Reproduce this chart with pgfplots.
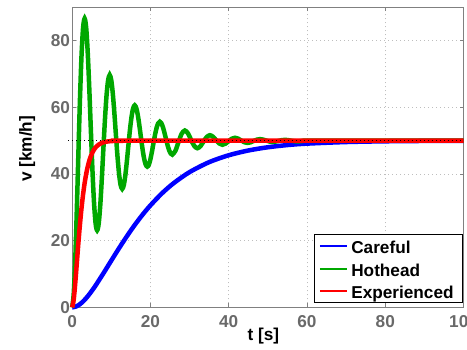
\documentclass[border=0pt]{standalone}
\usepackage{pgfplots}
\pgfplotsset{compat=1.18}
\usepackage{fontspec}
\setmainfont{Liberation Sans}
\definecolor{tickgray}{RGB}{105,105,105}
\definecolor{axgray}{RGB}{128,128,128}
\definecolor{gridgray}{RGB}{190,190,190}
\definecolor{mgreen}{RGB}{0,168,0}
\definecolor{mblue}{RGB}{0,0,255}
\newcommand{\bigbf}{\fontsize{17.2}{20}\selectfont\bfseries}
\begin{document}
\begin{tikzpicture}
\begin{axis}[
  at={(0,0)}, anchor=south west,
  scale only axis, width=391.5pt, height=300pt,
  xmin=0, xmax=100, ymin=0, ymax=90,
  xtick={0,20,...,100}, ytick={0,20,...,80},
  clip=false,
  tick align=inside, major tick length=4pt,
  axis line style={axgray, line width=0.8pt},
  every tick/.style={axgray, line width=0.8pt},
  grid=major,
  major grid style={gridgray, line width=0.8pt, dash pattern=on 1pt off 3pt},
  tick label style={font=\bigbf, text=tickgray},
  /pgf/number format/assume math mode=true,
  xticklabel style={anchor=base, yshift=-20.3pt},
  yticklabel style={anchor=east, inner sep=0pt, xshift=-2pt},
  xlabel={t [s]}, ylabel={v [km/h]},
  every axis x label/.style={at={(axis description cs:0.4885,-0.0966)}, anchor=center, font=\bigbf},
  every axis y label/.style={at={(axis description cs:-0.115,0.5285)}, anchor=center, rotate=90, font=\bigbf},
]
\addplot[draw=mblue, line width=4.5pt, smooth] coordinates {
(0,0) (1,0.27) (2,0.96) (3,2.02) (4,3.35) (5,4.89) (6,6.57) (8,10.23) (10,14.02)
(12,17.77) (14,21.36) (16,24.73) (18,27.81) (20,30.60) (23,34.27) (26,37.32)
(30,40.58) (35,43.57) (40,45.64) (45,47.07) (50,48.04) (55,48.70) (60,49.13)
(70,49.61) (80,49.83) (90,49.93) (100,49.97)};
\addplot[draw=mgreen, line width=4.5pt, smooth] coordinates {
(0,0) (0.4,3.80) (0.8,14.15) (1.2,29.02) (1.6,45.89) (2.0,62.11) (2.4,75.33) (2.8,83.81)
(3.2,86.66) (3.6,83.88) (4.0,76.29) (4.4,65.38) (4.8,53.01) (5.2,41.12) (5.6,31.43)
(6.0,25.21) (6.4,23.12)
(6.8,25.16) (7.2,30.73) (7.6,38.72) (8.0,47.79) (8.4,56.51) (8.8,63.62) (9.2,68.17)
(9.6,69.71) (10.0,68.21) (10.4,64.13) (10.8,58.27) (11.2,51.62) (11.6,45.23) (12.0,40.02)
(12.4,36.67) (12.8,35.55)
(13.2,36.65) (13.6,39.64) (14.0,43.94) (14.4,48.81) (14.8,53.50) (15.2,57.32) (15.6,59.77)
(16.0,60.60) (16.4,59.79) (16.8,57.60) (17.2,54.44) (17.6,50.87) (18.0,47.43) (18.4,44.63)
(18.8,42.84) (19.2,42.23)
(19.6,42.82) (20.0,44.43) (20.4,46.74) (20.8,49.36) (21.2,51.88) (21.6,53.94) (22.0,55.25)
(22.4,55.70) (22.8,55.26) (23.2,54.08) (23.6,52.39) (24.0,50.47) (24.4,48.62) (24.8,47.11)
(25.2,46.15) (25.6,45.83)
(26.4,47.00) (27.2,49.66) (28.0,52.12) (28.8,53.06) (29.6,52.20) (30.4,50.25) (31.2,48.45)
(32.0,47.76) (32.8,48.39) (33.6,49.82) (34.4,51.14) (35.2,51.65) (36.0,51.18) (36.8,50.14)
(37.6,49.17) (38.4,48.79) (39.2,49.13) (40.0,49.90) (40.8,50.61) (41.6,50.88) (42.4,50.64)
(43.2,50.07) (44.0,49.55) (44.8,49.35) (45.6,49.53) (46.4,49.95) (47.2,50.33) (48.0,50.48)
(48.8,50.34) (49.6,50.04) (50.4,49.76) (51.2,49.65) (52.0,49.75) (52.8,49.97) (53.6,50.18)
(54.4,50.26) (55.2,50.18) (56.0,50.00) (56.8,49.86) (57.6,49.81) (58.4,49.86) (59.2,50.00)
(60.0,50.05) (62.0,50.00) (100,50)};
\addplot[draw=red, line width=4.5pt, smooth] coordinates {
(0,0) (0.4,2.23) (0.8,7.21) (1.2,13.21) (1.6,19.25) (2.0,24.81) (2.4,29.70) (2.8,33.84)
(3.2,37.26) (3.6,40.04) (4.0,42.27) (4.4,44.04) (4.8,45.42) (5.2,46.50) (5.6,47.34)
(6.0,47.98) (6.8,48.85) (7.6,49.35) (8.4,49.64) (9.6,49.85) (11,49.95) (13,49.99)
(16,50) (100,50)};
\addplot[black, line width=0.8pt, dash pattern=on 0.8pt off 3.2pt] coordinates {(-1,50) (100,50)};
% legend
\draw[black, line width=0.8pt, fill=white] (axis description cs:0.6179,0.0157) rectangle (axis description cs:0.9967,0.2447);
\draw[draw=mblue, line width=1.1pt] (axis description cs:0.6332,0.2047) -- (axis description cs:0.7022,0.2047);
\draw[draw=mgreen, line width=1.1pt] (axis description cs:0.6332,0.1280) -- (axis description cs:0.7022,0.1280);
\draw[draw=red, line width=1.1pt] (axis description cs:0.6332,0.0547) -- (axis description cs:0.7022,0.0547);
\node[anchor=base west, inner sep=0pt, font=\bigbf] at (axis description cs:0.7127,0.178) {Careful};
\node[anchor=base west, inner sep=0pt, font=\bigbf] at (axis description cs:0.7127,0.1033) {Hothead};
\node[anchor=base west, inner sep=0pt, font=\bigbf] at (axis description cs:0.7127,0.030) {Experienced};
\end{axis}
\pgfresetboundingbox
\useasboundingbox (-72.1pt,-42.6pt) rectangle (394.9pt,307.4pt);
\end{tikzpicture}
\end{document}
